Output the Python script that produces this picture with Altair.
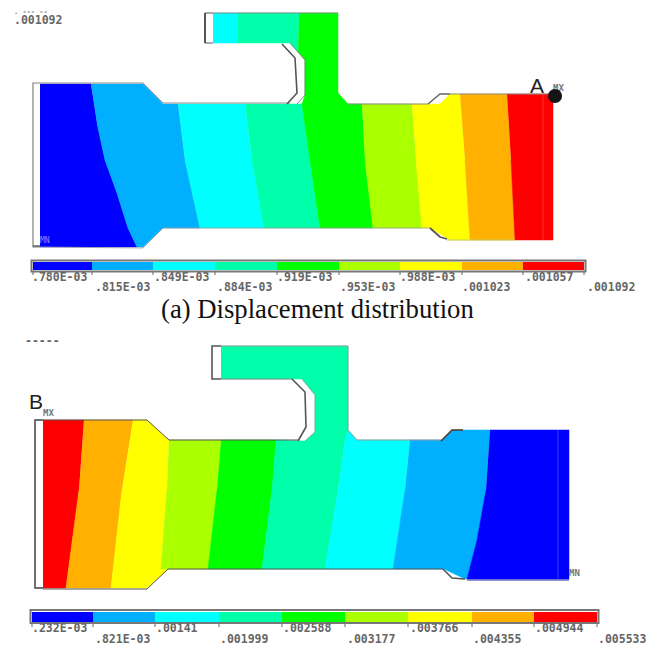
import altair as alt
import pandas as pd

BLUE, LTBLUE, CYAN, TEAL, GREEN = "#0000ff", "#00b0ff", "#00ffff", "#00ffaa", "#00ff00"
LIME, YELLOW, ORANGE, RED = "#aaff00", "#ffff00", "#ffb000", "#ff0000"
RAMP = [BLUE, LTBLUE, CYAN, TEAL, GREEN, LIME, YELLOW, ORANGE, RED]

# --- (a) displacement contour bands: colour, (x, y) vertices
a_blue = (BLUE, [(40,84),(91,84),(97,123),(105,160),(117,193),(128,228),(137,247),(40,247)])
a_ltblue = (LTBLUE, [(91,84),(143,84),(163,104),(178,104),(185,160),(200,228),(163,228),(143,247),(137,247),(128,228),(117,193),(105,160),(97,123)])
a_cyan = (CYAN, [(178,104),(245,104),(252,160),(264,228),(200,228),(185,160)])
a_cyan_arm = (CYAN, [(213,13),(238,13),(238,43),(213,43)])
a_teal = (TEAL, [(245,104),(302,104),(310,160),(320,228),(264,228),(252,160)])
a_teal_arm = (TEAL, [(238,13),(299,13),(298,52),(290,43),(238,43)])
a_green = (GREEN, [(299,13),(338,13),(338,93),(348,104),(362,104),(365,160),(373,228),(320,228),(310,160),(302,104),(305,95),(305,60),(298,52)])
a_lime = (LIME, [(362,104),(412,104),(416,160),(422,228),(373,228),(365,160)])
a_yellow = (YELLOW, [(412,104),(440,104),(450,94),(460,94),(465,160),(470,240),(450,240),(430,228),(422,228),(416,160)])
a_orange = (ORANGE, [(460,94),(507,94),(511,160),(515,240),(470,240),(465,160)])
a_red = (RED, [(507,94),(553,94),(553,240),(515,240),(511,160)])

# --- (b) stress contour bands
b_red = (RED, [(43,420),(84,420),(79,490),(66,588),(43,588)])
b_orange = (ORANGE, [(84,420),(133,420),(122,490),(111,588),(66,588),(79,490)])
b_yellow = (YELLOW, [(133,420),(147,420),(169,440),(167,490),(161,569),(168,569),(147,588),(111,588),(122,490)])
b_lime = (LIME, [(169,440),(221,440),(217,490),(208,569),(161,569),(167,490)])
b_green = (GREEN, [(221,440),(276,440),(272,490),(262,569),(208,569),(217,490)])
b_teal = (TEAL, [(221,346),(348,346),(348,430),(345,440),(338,490),(325,569),(262,569),(272,490),(276,440),(305,441),(315,432),(315,395),(302,379),(221,379)])
b_cyan = (CYAN, [(345,440),(348,430),(357,440),(410,440),(405,490),(393,569),(325,569),(338,490)])
b_ltblue = (LTBLUE, [(410,440),(442,440),(453,430),(490,430),(486,490),(477,540),(467,579),(465,579),(444,569),(393,569),(405,490)])
b_blue = (BLUE, [(490,430),(569,430),(569,579),(467,579),(477,540),(486,490)])

BANDS = [a_blue, a_ltblue, a_cyan, a_cyan_arm, a_teal, a_teal_arm, a_green, a_lime, a_yellow, a_orange, a_red,
         b_red, b_orange, b_yellow, b_lime, b_green, b_teal, b_cyan, b_ltblue, b_blue]

# --- colour bars: segment edges
bar_a_edges = [33, 92, 153, 215, 277, 339, 400, 462, 523, 584]
bar_b_edges = [32, 93, 155, 219, 282, 345, 408, 472, 534, 597]
bar_a_y = (262, 270)
bar_b_y = (612, 622)

# --- colour-bar tick labels
bar_a_labels = [".780E-03", ".815E-03", ".849E-03", ".884E-03", ".919E-03", ".953E-03", ".988E-03", ".001023", ".001057", ".001092"]
bar_b_labels = [".232E-03", ".821E-03", ".00141", ".001999", ".002588", ".003177", ".003766", ".004355", ".004944", ".005533"]
bar_a_label_x = [32, 95, 154, 217, 277, 340, 400, 462, 525, 587]
bar_b_label_x = [32, 95, 156, 220, 283, 347, 410, 473, 535, 598]
bar_a_rows = (278, 288)
bar_b_rows = (629, 640)

# --- outlines: name, colour, width, vertices
LINES = [
    ("a_out", "#8c8c8c", 1.0, [(40,83),(143,83),(163,103),(290,103)]),
    ("a_frame", "#808080", 1.2, [(40,83),(33,83),(33,247),(40,247)]),
    ("a_frame2", "#444444", 1.2, [(33,246),(40,246)]),
    ("a_low", "#9a9a9a", 0.8, [(40,247),(143,248),(163,228),(430,228)]),
    ("a_top", "#8c8c8c", 1.0, [(338,13),(213,13)]),
    ("a_arm", "#555555", 1.0, [(213,13),(205,13)]),
    ("a_arm2", "#555555", 2.0, [(205,13),(205,43)]),
    ("a_arm3", "#555555", 1.0, [(205,43),(213,43)]),
    ("a_neck", "#777777", 0.8, [(290,43),(305,60),(305,95),(297,104)]),
    ("a_neck2", "#555555", 1.6, [(282,44),(295,58),(297,93),(287,104)]),
    ("a_r1", "#8c8c8c", 1.0, [(348,104),(428,104)]),
    ("a_r2", "#666666", 1.5, [(428,104),(440,94),(450,94)]),
    ("a_r3", "#8c8c8c", 1.0, [(450,94),(553,94)]),
    ("a_r4", "#555555", 1.8, [(430,228),(440,237),(447,239)]),
    ("a_r5", "#c8c864", 1.0, [(447,240),(515,240)]),
    ("a_seam", "#ff3333", 1.0, [(543,94),(543,240)]),
    ("b_out", "#555555", 1.0, [(43,420),(147,420),(169,440),(298,440)]),
    ("b_frame", "#444444", 1.5, [(43,420),(35,420),(35,588),(43,588)]),
    ("b_low", "#555555", 1.0, [(43,589),(147,589),(168,569),(443,569)]),
    ("b_top", "#999999", 1.0, [(221,346),(348,346),(348,430),(357,440),(441,440)]),
    ("b_arm", "#555555", 1.6, [(221,346),(212,346),(212,379),(221,379)]),
    ("b_arm2", "#888888", 1.0, [(221,379),(292,379)]),
    ("b_neck", "#555555", 1.6, [(292,379),(305,392),(306,427),(298,441)]),
    ("b_neck2", "#999999", 0.8, [(302,379),(315,395),(315,432),(305,441)]),
    ("b_r1", "#553322", 1.5, [(441,441),(452,430),(463,430)]),
    ("b_r2", "#555555", 1.6, [(443,569),(452,578),(465,579)]),
    ("b_r3", "#2222aa", 1.0, [(467,580),(569,580)]),
    ("b_seam", "#3a3aff", 1.0, [(558,430),(558,579)]),
]

# --- free text: text, x, y
small_marks = [(".001092", 14, 21), ("-----", 25, 342)]
top_stub = [(". --- --", 14, 12)]
letters = [("A", 530, 87), ("B", 29, 403)]
tags_dark = [("MX", 553, 88), ("MX", 43, 413), ("MN", 569, 573)]
tags_faint = [("MN", 40, 241)]
caption = ("(a) Displacement distribution", 161, 310)
dot = (555, 96)

X = alt.X("x:Q", axis=None, scale=alt.Scale(domain=[8, 653]))
Y = alt.Y("y:Q", axis=None, scale=alt.Scale(domain=[646, 8]))

rows = []
for i, (c, pts) in enumerate(BANDS):
    for j, (x, y) in enumerate(pts):
        rows.append(dict(id=f"p{i}", o=j, x=x, y=y, c=c))
poly = alt.Chart(pd.DataFrame(rows)).mark_line(strokeWidth=0.5, clip=False).encode(
    x=X, y=Y, order="o:Q", detail="id:N",
    fill=alt.Fill("c:N", scale=None), stroke=alt.Stroke("c:N", scale=None))

bar_rows = []
for edges, (y0, y1) in ((bar_a_edges, bar_a_y), (bar_b_edges, bar_b_y)):
    for k, c in enumerate(RAMP):
        bar_rows.append(dict(x=edges[k], x2=edges[k + 1], y=y0, y2=y1, c=c))
bars = alt.Chart(pd.DataFrame(bar_rows)).mark_rect().encode(
    x=X, x2="x2:Q", y=Y, y2="y2:Q", color=alt.Color("c:N", scale=None))

frame_rows = [
    dict(x=bar_a_edges[0] - 1.5, x2=bar_a_edges[-1] + 1.5, y=bar_a_y[0] - 1.5, y2=bar_a_y[1] + 1.5),
    dict(x=bar_b_edges[0] - 1.5, x2=bar_b_edges[-1] + 1.5, y=bar_b_y[0] - 2, y2=bar_b_y[1] + 1),
]
frames = alt.Chart(pd.DataFrame(frame_rows)).mark_rect(fill=None, stroke="#777777", strokeWidth=2).encode(
    x=X, x2="x2:Q", y=Y, y2="y2:Q")

tick_rows = []
for edges, y0 in ((bar_a_edges, bar_a_y[1]), (bar_b_edges, bar_b_y[1])):
    for e in edges:
        tick_rows.append(dict(x=e, y=y0 + 2, y2=y0 + 5))
ticks = alt.Chart(pd.DataFrame(tick_rows)).mark_rule(color="#666666", strokeWidth=1).encode(x=X, y=Y, y2="y2:Q")

line_rows = []
for name, c, w, pts in LINES:
    for j, (x, y) in enumerate(pts):
        line_rows.append(dict(id=name, o=j, x=x, y=y, c=c, w=w))
lines = alt.Chart(pd.DataFrame(line_rows)).mark_line().encode(
    x=X, y=Y, order="o:Q", detail="id:N",
    color=alt.Color("c:N", scale=None),
    strokeWidth=alt.StrokeWidth("w:Q", scale=None))

label_rows = []
for labs, xs, rws in ((bar_a_labels, bar_a_label_x, bar_a_rows), (bar_b_labels, bar_b_label_x, bar_b_rows)):
    for k, (t, x) in enumerate(zip(labs, xs)):
        label_rows.append(dict(t=t, x=x, y=rws[k % 2]))
for t, x, y in small_marks:
    label_rows.append(dict(t=t, x=x, y=y))
labels = alt.Chart(pd.DataFrame(label_rows)).mark_text(
    font="DejaVu Sans Mono", fontSize=11.5, fontWeight="bold", align="left", baseline="middle", color="#666666"
).encode(x=X, y=Y, text="t:N")


def text_layer(items, **kw):
    df = pd.DataFrame([dict(t=t, x=x, y=y) for t, x, y in items])
    return alt.Chart(df).mark_text(align="left", baseline="middle", **kw).encode(x=X, y=Y, text="t:N")


big = text_layer(letters, font="Liberation Sans", fontSize=21, color="#222222")
stub = text_layer(top_stub, font="DejaVu Sans Mono", fontSize=7, fontWeight="bold", color="#777777")
tag1 = text_layer(tags_dark, font="DejaVu Sans Mono", fontSize=9, fontWeight="bold", color="#777777")
tag2 = text_layer(tags_faint, font="DejaVu Sans Mono", fontSize=8, color="#8888ff")
cap = text_layer([caption], font="Liberation Serif", fontSize=26.7, color="#111111")
marker = alt.Chart(pd.DataFrame([dict(x=dot[0], y=dot[1])])).mark_circle(size=200, color="#151515", opacity=1).encode(x=X, y=Y)

chart = alt.layer(poly, lines, frames, bars, ticks, labels, stub, big, tag1, tag2, cap, marker).properties(
    width=645, height=638, padding=0, background="white", autosize=alt.AutoSizeParams(type="none")
).configure_view(stroke=None)

chart.save("out.html", embed_options={"renderer": "svg", "actions": False})
